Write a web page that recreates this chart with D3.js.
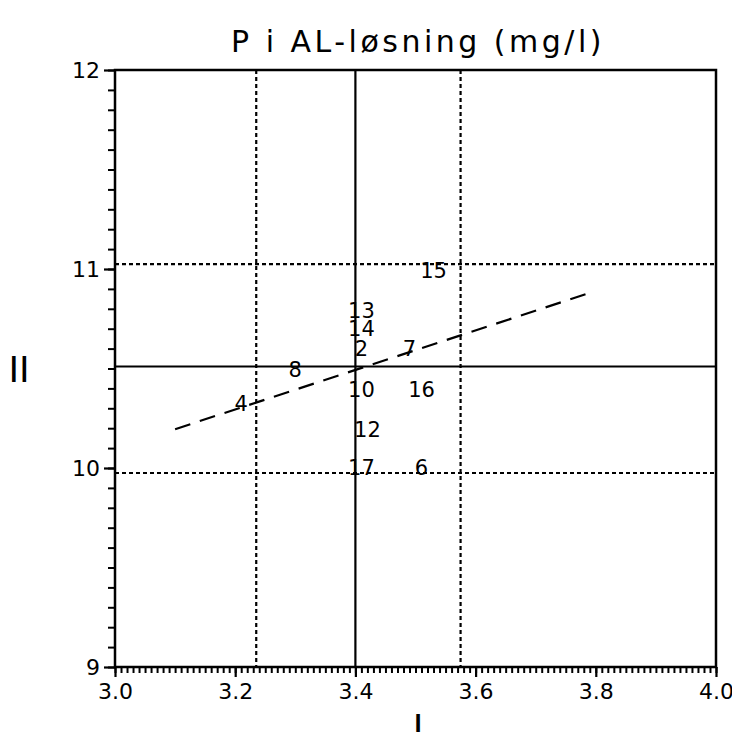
<!DOCTYPE html>
<html>
<head>
<meta charset="utf-8">
<script src="https://cdn.jsdelivr.net/npm/d3@7"></script>
<style>
  body { margin: 0; background: #fff; }
  svg { display: block; }
  text { font-family: "DejaVu Sans", sans-serif; fill: #000; }
</style>
</head>
<body>
<svg id="chart" width="732" height="732"></svg>
<script>
// point labels (observation numbers) and their I / II values
var ids  = ["15", "13", "14", "2", "7", "8", "10", "16", "4", "12", "17", "6"];
var valI = [3.53, 3.41, 3.41, 3.41, 3.49, 3.30, 3.41, 3.51, 3.21, 3.42, 3.41, 3.51];
var valII = [10.99, 10.79, 10.70, 10.60, 10.60, 10.49, 10.39, 10.39, 10.32, 10.19, 10.00, 10.00];

// reference lines: solid = mean, dotted = mean +/- sd
var meanI = 3.40, meanII = 10.51;
var sdLinesI = [3.235, 3.575];
var sdLinesII = [9.975, 11.025];

// regression line end points
var regI = [3.10, 3.79];
var regII = [10.195, 10.88];

var xTicks = [3.0, 3.2, 3.4, 3.6, 3.8, 4.0];
var yTicks = [9, 10, 11, 12];

var svg = d3.select("#chart");

var x = d3.scaleLinear().domain([3, 4]).range([115, 716]);
var y = d3.scaleLinear().domain([9, 12]).range([667, 70]);

// title
svg.append("text")
  .attr("x", 418).attr("y", 52)
  .attr("text-anchor", "middle")
  .attr("font-size", 30)
  .attr("letter-spacing", 3.5)
  .text("P i AL-løsning (mg/l)");

// minor ticks
svg.append("g")
  .attr("transform", "translate(0," + y(9) + ")")
  .call(d3.axisBottom(x).tickValues(d3.range(3, 4.0001, 0.01)).tickSize(6).tickFormat(""))
  .call(function(g) { g.select(".domain").remove(); g.selectAll("line").attr("stroke-width", 2); });

svg.append("g")
  .attr("transform", "translate(" + x(3) + ",0)")
  .call(d3.axisLeft(y).tickValues(d3.range(9, 12.0001, 0.1)).tickSize(7).tickFormat(""))
  .call(function(g) { g.select(".domain").remove(); g.selectAll("line").attr("stroke-width", 2); });

// major ticks + labels
var xAxis = svg.append("g")
  .attr("transform", "translate(0," + y(9) + ")")
  .call(d3.axisBottom(x).tickValues(xTicks).tickSize(10).tickPadding(6).tickFormat(d3.format(".1f")));
xAxis.select(".domain").remove();
xAxis.selectAll("line").attr("stroke-width", 2.2);
xAxis.selectAll("text").attr("font-size", 22).attr("font-family", "DejaVu Sans");

var yAxis = svg.append("g")
  .attr("transform", "translate(" + x(3) + ",0)")
  .call(d3.axisLeft(y).tickValues(yTicks).tickSize(11).tickPadding(4).tickFormat(d3.format("d")));
yAxis.select(".domain").remove();
yAxis.selectAll("line").attr("stroke-width", 2.2);
yAxis.selectAll("text").attr("font-size", 22).attr("font-family", "DejaVu Sans");

// dotted sd lines
svg.selectAll(".sdx").data(sdLinesI).enter().append("line")
  .attr("x1", function(d) { return x(d); }).attr("x2", function(d) { return x(d); })
  .attr("y1", y(12)).attr("y2", y(9))
  .attr("stroke", "#000").attr("stroke-width", 2.2).attr("stroke-dasharray", "4,3");

svg.selectAll(".sdy").data(sdLinesII).enter().append("line")
  .attr("x1", x(3)).attr("x2", x(4))
  .attr("y1", function(d) { return y(d); }).attr("y2", function(d) { return y(d); })
  .attr("stroke", "#000").attr("stroke-width", 2.2).attr("stroke-dasharray", "4,3");

// solid mean lines
svg.append("line")
  .attr("x1", x(meanI)).attr("x2", x(meanI)).attr("y1", y(12)).attr("y2", y(9))
  .attr("stroke", "#000").attr("stroke-width", 2.2);
svg.append("line")
  .attr("x1", x(3)).attr("x2", x(4)).attr("y1", y(meanII)).attr("y2", y(meanII))
  .attr("stroke", "#000").attr("stroke-width", 2.2);

// regression line
svg.append("line")
  .attr("x1", x(regI[0])).attr("y1", y(regII[0]))
  .attr("x2", x(regI[1])).attr("y2", y(regII[1]))
  .attr("stroke", "#000").attr("stroke-width", 2.2).attr("stroke-dasharray", "16,10");

// frame
svg.append("rect")
  .attr("x", x(3)).attr("y", y(12))
  .attr("width", x(4) - x(3)).attr("height", y(9) - y(12))
  .attr("fill", "none").attr("stroke", "#000").attr("stroke-width", 2.5);

// point labels
svg.selectAll(".pt").data(ids).enter().append("text")
  .attr("class", "pt")
  .attr("x", function(d, i) { return x(valI[i]); })
  .attr("y", function(d, i) { return y(valII[i]); })
  .attr("text-anchor", "middle")
  .attr("dominant-baseline", "central")
  .attr("font-size", 21)
  .text(function(d) { return d; });

// axis titles
svg.append("text")
  .attr("x", 418).attr("y", 740)
  .attr("text-anchor", "middle")
  .attr("font-size", 36)
  .text("I");

svg.append("text")
  .attr("x", 19).attr("y", 382)
  .attr("text-anchor", "middle")
  .attr("font-size", 36)
  .text("II");
</script>
</body>
</html>
